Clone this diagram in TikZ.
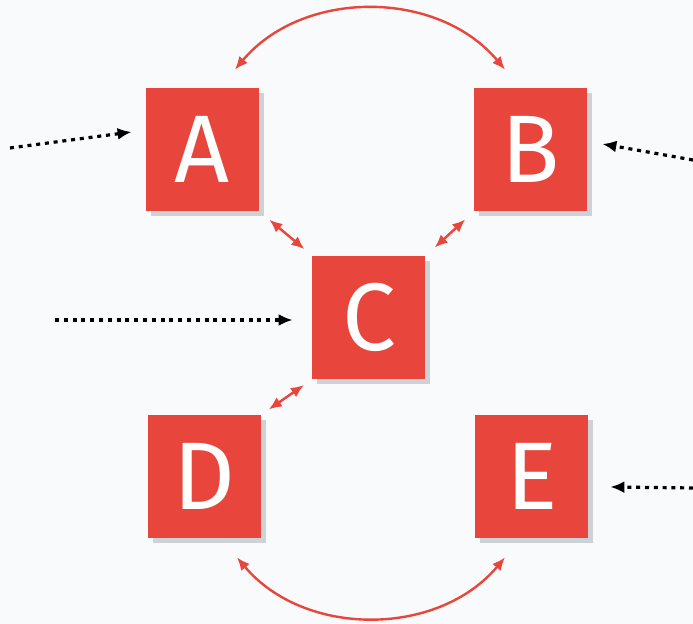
\documentclass[tikz,border=0pt]{standalone}
\usepackage{fontspec}
\setsansfont{Fira Sans}
\usetikzlibrary{positioning,arrows.meta,shadows}
\definecolor{BoxRed}{HTML}{E8463C}
\definecolor{PaperGrey}{HTML}{F8FAFB}
\definecolor{ShadeGrey}{HTML}{CDD2D7}

\begin{document}
\begin{tikzpicture}[x=0.5pt,y=0.5pt,
    box/.style={fill=BoxRed, text=white, minimum width=56.5pt, minimum height=61.5pt,
      inner sep=0pt, font=\sffamily\fontsize{48}{50}\selectfont,
      drop shadow={shadow xshift=2.5pt, shadow yshift=-2.5pt, fill=ShadeGrey, opacity=1}},
    link/.style={BoxRed, line width=1.2pt, {Latex[length=6.5pt,width=5.5pt]}-{Latex[length=6.5pt,width=5.5pt]}},
    feed/.style={black, line width=1.6pt, dash pattern=on 2pt off 2.4pt, -{Latex[length=7pt,width=6pt]}}]
        \path[use as bounding box, fill=PaperGrey] (0,0) rectangle (693,624);
        % the five boxes
        \node[box] (A) at (202.5,474.5) {A};
        \node[box] (B) at (531,474.5) {B};
        \node[box] (C) at (369,306.5) {C};
        \node[box] (D) at (204.5,147.5) {D};
        \node[box] (E) at (532,147.5) {E};
        % outside inputs
        \coordinate (inA) at (10,476);
        \coordinate (inB) at (693,464);
        \coordinate (inC) at (55,304);
        \coordinate (inE) at (693,136);
        \draw[feed] (inA) -- ([shift={(-14,17.5)}]A.west);
        \draw[feed] (inB) -- ([shift={(14.5,5.5)}]B.east);
        \draw[feed] (inC) -- ([shift={(-19.5,-2.5)}]C.west);
        \draw[feed] (inE) -- ([shift={(21.5,-10.5)}]E.east);
        % links between boxes
        \draw[link] ([shift={(32.5,18)}]A.north) to[bend left=50] ([shift={(-26,18)}]B.north);
        \draw[link] ([shift={(32.5,-19)}]D.south) to[bend right=50] ([shift={(-27,-19)}]E.south);
        \draw[link, shorten <=6.5pt, shorten >=5pt] (A.south east) -- (C.north west);
        \draw[link, shorten <=6pt, shorten >=6pt] (B.south west) -- (C.north east);
        \draw[link, shorten <=5pt, shorten >=4.5pt] (C.south west) -- (D.north east);
      \end{tikzpicture}
\end{document}
